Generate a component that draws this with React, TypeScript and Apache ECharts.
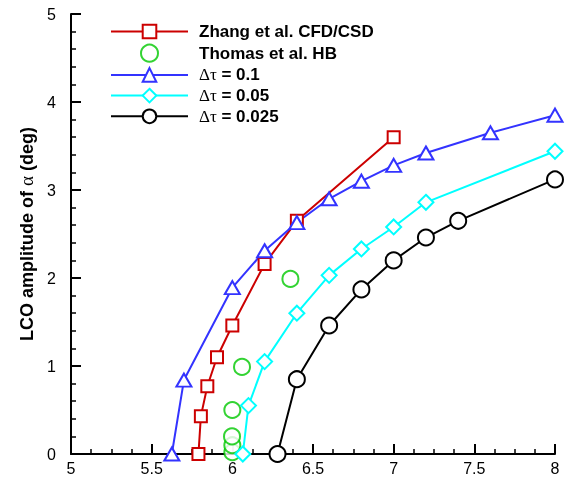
import React, { useEffect, useRef } from "react";
import * as echarts from "echarts";

const zhangX = [5.79, 5.805, 5.845, 5.905, 6.0, 6.2, 6.4, 7.0];
const zhangY = [0, 0.43, 0.77, 1.1, 1.46, 2.16, 2.65, 3.6];

const thomasX = [6.0, 6.0, 5.998, 6.0, 6.06, 6.36];
const thomasY = [0.02, 0.1, 0.2, 0.5, 0.99, 1.99];

const dt1X = [5.625, 5.7, 6.0, 6.2, 6.4, 6.6, 6.8, 7.0, 7.2, 7.6, 8.0];
const dt1Y = [0, 0.84, 1.89, 2.31, 2.63, 2.9, 3.1, 3.28, 3.42, 3.65, 3.85];

const dt05X = [6.065, 6.1, 6.2, 6.4, 6.6, 6.8, 7.0, 7.2, 8.0];
const dt05Y = [0, 0.55, 1.05, 1.6, 2.03, 2.33, 2.58, 2.86, 3.44];

const dt025X = [6.28, 6.4, 6.6, 6.8, 7.0, 7.2, 7.4, 8.0];
const dt025Y = [0, 0.85, 1.46, 1.87, 2.2, 2.46, 2.65, 3.12];

const seriesNames = [
  "Zhang et al. CFD/CSD",
  "Thomas et al. HB",
  "Δτ = 0.1",
  "Δτ = 0.05",
  "Δτ = 0.025",
];

const pairs = (xs: number[], ys: number[]) => xs.map((x, i) => [x, ys[i]]);

export default function App() {
  const ref = useRef<HTMLDivElement>(null);
  useEffect(() => {
    if (!ref.current) return;
    const chart = echarts.init(ref.current, undefined, { renderer: "svg" });
    const font = "Liberation Sans, Arial, sans-serif";
    const serif = "Liberation Serif, DejaVu Serif, serif";
    const lineSeries = (
      name: string,
      xs: number[],
      ys: number[],
      color: string,
      symbol: string,
      size: number | number[]
    ) => ({
      name,
      type: "line",
      data: pairs(xs, ys),
      symbol,
      symbolSize: size,
      showAllSymbol: true,
      lineStyle: { color, width: 2 },
      itemStyle: { color, borderWidth: 2 },
      z: 3,
    });
    chart.setOption({
      animation: false,
      grid: { left: 71, right: 16, top: 14, bottom: 27 },
      legend: {
        orient: "vertical",
        left: 110,
        top: 23,
        padding: 0,
        itemWidth: 77,
        itemHeight: 17,
        itemGap: 3.7,
        data: seriesNames,
        formatter: (name: string) =>
          name.startsWith("Δτ")
            ? `{sp| }{g|Δτ}{b|${name.slice(2)}}`
            : `{sp| }{b|${name}}`,
        textStyle: {
          color: "#000",
          fontSize: 17,
          lineHeight: 17,
          rich: {
            sp: { width: 6, fontSize: 10 },
            b: { fontFamily: font, fontWeight: "bold", fontSize: 17, color: "#000", lineHeight: 17 },
            g: { fontFamily: serif, fontWeight: "normal", fontSize: 17, color: "#000", lineHeight: 17 },
          },
        },
      },
      xAxis: {
        type: "value",
        min: 5,
        max: 8,
        interval: 0.5,
        axisLine: { show: true, lineStyle: { color: "#000", width: 2 } },
        axisTick: { show: true, inside: true, length: 10, lineStyle: { color: "#000", width: 2 } },
        minorTick: { show: true, splitNumber: 4, length: 5, lineStyle: { color: "#000", width: 1.5 } },
        splitLine: { show: false },
        axisLabel: { color: "#000", fontSize: 16, fontFamily: font, margin: 6 },
      },
      yAxis: {
        type: "value",
        min: 0,
        max: 5,
        interval: 1,
        name: "{b|LCO amplitude of }{g|α}{b| (deg)}",
        nameLocation: "middle",
        nameGap: 35,
        nameTextStyle: {
          rich: {
            b: { fontFamily: font, fontWeight: "bold", fontSize: 18, color: "#000" },
            g: { fontFamily: serif, fontWeight: "normal", fontSize: 19, color: "#000" },
          },
        },
        axisLine: { show: true, lineStyle: { color: "#000", width: 2 } },
        axisTick: { show: true, inside: true, length: 10, lineStyle: { color: "#000", width: 2 } },
        minorTick: { show: true, splitNumber: 5, length: 5, lineStyle: { color: "#000", width: 1.5 } },
        splitLine: { show: false },
        axisLabel: { color: "#000", fontSize: 16, fontFamily: font, margin: 15 },
      },
      series: [
        lineSeries(seriesNames[0], zhangX, zhangY, "#CC0000", "emptyRect", 12),
        {
          name: seriesNames[1],
          type: "scatter",
          data: pairs(thomasX, thomasY),
          symbol: "emptyCircle",
          symbolSize: 16,
          itemStyle: { color: "#00C800", borderWidth: 2 },
          z: 2,
        },
        lineSeries(seriesNames[2], dt1X, dt1Y, "#3333FF", "emptyTriangle", [15, 13]),
        lineSeries(seriesNames[3], dt05X, dt05Y, "#00FFFF", "emptyDiamond", [15, 15]),
        lineSeries(seriesNames[4], dt025X, dt025Y, "#000000", "emptyCircle", 16),
      ],
    });
    return () => chart.dispose();
  }, []);
  return (
    <div
      ref={ref}
      style={{ position: "fixed", left: 0, top: 0, width: 571, height: 481 }}
    />
  );
}
